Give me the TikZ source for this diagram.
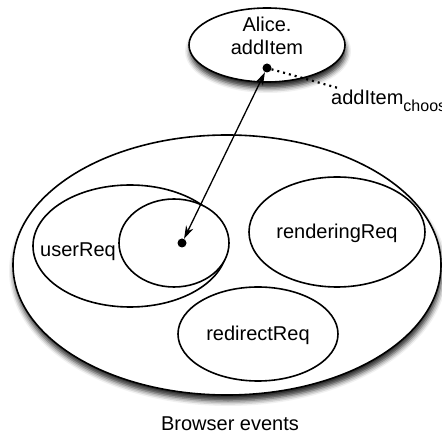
\documentclass[tikz,border=0pt]{standalone}
\usepackage{fontspec}
\setmainfont{Liberation Sans}
\usetikzlibrary{shapes.geometric,arrows.meta,shadows.blur}
\begin{document}
\begin{tikzpicture}[x=1pt,y=-1pt,
  set/.style={ellipse, draw, line width=1.6pt, inner sep=0pt, fill=white},
  shad/.style={blur shadow={shadow xshift=1pt, shadow yshift=-6pt, shadow blur radius=5pt, shadow opacity=85}},
  lbl/.style={font=\fontsize{20}{23}\selectfont, inner sep=0pt},
  dot/.style={circle, fill=black, inner sep=0pt, minimum size=9pt}]
\useasboundingbox (0,0) rectangle (442,435);
% big ellipse
\node[set, shad, minimum width=428pt, minimum height=260pt] (browser) at (227,265) {};
\node[set, minimum width=194pt, minimum height=122pt] (user) at (130,246) {};
\node[set, minimum width=110pt, minimum height=88pt] (inner) at (174,243) {};
\node[set, minimum width=176pt, minimum height=110pt] (render) at (337,232) {};
\node[set, minimum width=160pt, minimum height=94pt] (redirect) at (258,334) {};
% top ellipse
\node[set, shad, minimum width=156pt, minimum height=74pt] (alice) at (267,45) {};
% labels
\node[lbl] (tuser) at (78,252) {userReq};
\node[lbl] (trender) at (337,233) {renderingReq};
\node[lbl] (tredirect) at (258,335) {redirectReq};
\node[lbl, align=center] (talice) at (267,36) {Alice.\\addItem};
\node[lbl] (tbrowser) at (230,424) {Browser events};
\node[lbl, anchor=west] (tchoose) at (331,101) {addItem\raisebox{-0.35em}{\fontsize{16}{18}\selectfont choose}};
% dots and arrows
\node[dot] (d1) at (182,243) {};
\node[dot] (d2) at (267,68) {};
\coordinate (c) at (338,88);
\draw[line width=1.3pt, {Stealth[length=13pt,width=8pt]}-{Stealth[length=13pt,width=8pt]}] (d1) -- (d2);
\draw[line width=2.2pt, dash pattern=on 2pt off 4pt] (d2) -- (c);
\end{tikzpicture}
\end{document}
